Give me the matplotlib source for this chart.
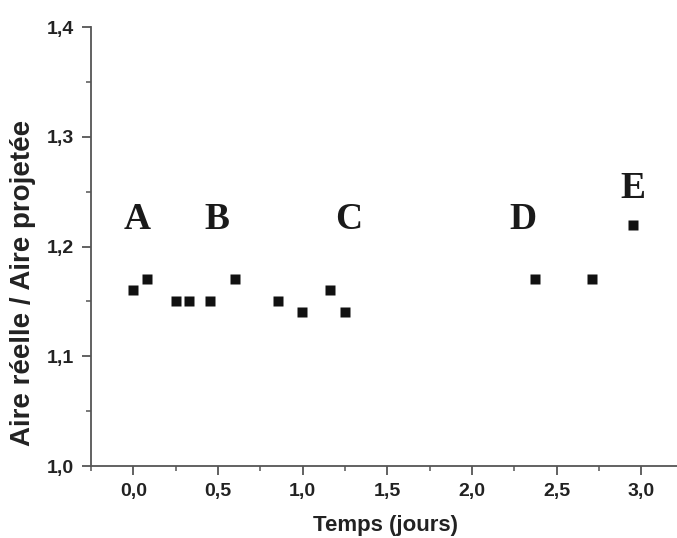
import matplotlib
matplotlib.use("Agg")
import matplotlib.pyplot as plt
from matplotlib.ticker import MultipleLocator, FuncFormatter

# données
temps = [0.0, 0.083, 0.25, 0.33, 0.455, 0.6, 0.854, 0.996, 1.163, 1.247, 2.373, 2.707, 2.953]
rapport = [1.16, 1.17, 1.15, 1.15, 1.15, 1.17, 1.15, 1.14, 1.16, 1.14, 1.17, 1.17, 1.22]

lettres = ["A", "B", "C", "D", "E"]
lettres_x = [0.02, 0.496, 1.27, 2.30, 2.95]
lettres_y = [1.216, 1.216, 1.216, 1.216, 1.244]

fig = plt.figure(figsize=(6.77, 5.38), dpi=100)
ax = fig.add_axes([0.1344, 0.1338, 0.8656, 0.816])

ax.plot(temps, rapport, "s", color="#111111", ms=6.5, mec="none")

for l, x, y in zip(lettres, lettres_x, lettres_y):
    ax.text(x, y, l, ha="center", va="baseline", fontsize=27, fontweight="bold",
            family="Liberation Serif", color="#1a1a1a")

ax.set_xlim(-0.25, 3.21)
ax.set_ylim(1.0, 1.4)

ax.spines["top"].set_visible(False)
ax.spines["right"].set_visible(False)
for s in ["left", "bottom"]:
    ax.spines[s].set_color("#555555")
    ax.spines[s].set_linewidth(1.3)

ax.xaxis.set_major_locator(MultipleLocator(0.5))
ax.xaxis.set_minor_locator(MultipleLocator(0.25))
ax.yaxis.set_major_locator(MultipleLocator(0.1))
ax.yaxis.set_minor_locator(MultipleLocator(0.05))

virgule = FuncFormatter(lambda v, p: f"{v:.1f}".replace(".", ","))
ax.xaxis.set_major_formatter(virgule)
ax.yaxis.set_major_formatter(virgule)

ax.tick_params(which="major", direction="out", length=6.5, width=1.3, color="#555555",
               labelsize=14, labelcolor="#222222", pad=6)
ax.tick_params(which="minor", direction="out", length=3.5, width=1.1, color="#555555")
for lab in ax.get_xticklabels() + ax.get_yticklabels():
    lab.set_fontweight("bold")
    lab.set_family("Liberation Sans")

ax.set_xlabel("Temps (jours)", fontsize=16, fontweight="bold", family="Liberation Sans",
              color="#222222")
ax.xaxis.set_label_coords(0.503, -0.112)
ax.set_ylabel("Aire réelle / Aire projetée", fontsize=20, fontweight="bold",
              family="Liberation Sans", color="#222222")
ax.yaxis.set_label_coords(-0.094, 0.416)

fig.savefig("out.png", dpi=100)
